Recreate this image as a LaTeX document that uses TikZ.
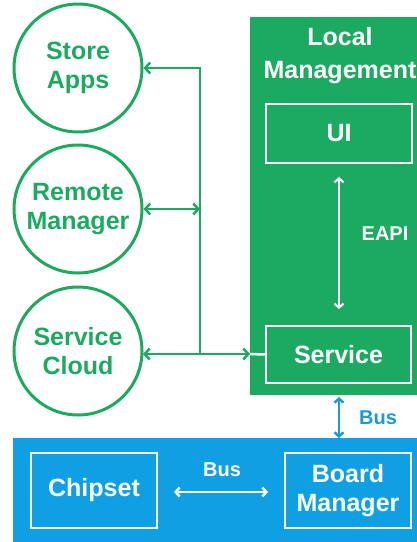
\documentclass[tikz,border=0pt]{standalone}
\usepackage{fontspec}
\setmainfont{Liberation Sans}
\usetikzlibrary{arrows.meta}
\definecolor{grn}{RGB}{27,170,96}
\definecolor{blu}{RGB}{14,160,226}
\definecolor{blu2}{RGB}{26,154,214}
\tikzset{
  big/.style={font=\fontsize{25}{29}\selectfont\bfseries, align=center, inner sep=0pt},
  small/.style={font=\fontsize{20}{24}\selectfont\bfseries, inner sep=0pt},
  circ/.style={circle, draw=grn, line width=3pt, minimum size=128pt, text=grn, big},
  wbox/.style={draw=white, line width=2.5pt, text=white, big},
  harrow/.style={line width=2.5pt, {Straight Barb[length=5pt,width=11pt]}-{Straight Barb[length=5pt,width=11pt]}},
}
\begin{document}
\begin{tikzpicture}[x=1pt,y=-1pt]
\useasboundingbox (0,0) rectangle (417,542);
% panels
\node[fill=grn, anchor=north west, minimum width=167pt, minimum height=378pt, inner sep=0pt] (lm) at (250,17) {};
\node[fill=blu, anchor=north west, minimum width=404pt, minimum height=104pt, inner sep=0pt] (hw) at (13,438) {};
% titles
\node[big, text=white, anchor=base, font=\fontsize{25}{33}\selectfont\bfseries] (title) at (340,78) {Local\\Management};
% circles
\node[circ] (store) at (78,68) {Store\\Apps};
\node[circ] (remote) at (78,209) {Remote\\Manager};
\node[circ] (cloud) at (78,351) {Service\\Cloud};
% boxes
\node[wbox, minimum width=146pt, minimum height=59pt] (ui) at (339,133.5) {UI};
\node[wbox, minimum width=145pt, minimum height=57pt] (service) at (338.5,354.5) {Service};
\node[wbox, minimum width=126pt, minimum height=75pt] (chip) at (94,490.5) {Chipset};
\node[wbox, minimum width=126pt, minimum height=75pt] (board) at (348,490.5) {Board\\Manager};
% labels
\node[small, text=white] (eapi) at (385,234) {EAPI};
\node[small, text=blu2] (bus1) at (378,418) {Bus};
\node[small, text=white] (bus2) at (222,470) {Bus};
% coordinates
\coordinate (j1) at (200,68);
\coordinate (j2) at (200,209);
\coordinate (j3) at (200,354);
\coordinate (c3) at (143,354);
\coordinate (lmw) at (250,354);
\coordinate (u1) at (339,177);
\coordinate (s1) at (339,309);
\coordinate (b1) at (339,397);
\coordinate (b2) at (339,438);
\coordinate (k1) at (174,492);
\coordinate (k2) at (268,492);
% green connectors
\draw[grn, line width=2.5pt, -{Straight Barb[length=5pt,width=11pt]}] (j3) -- (j1) -- (store.east);
\draw[grn, harrow] (remote.east) -- (j2);
\draw[grn, harrow] (c3) -- (lmw);
\draw[white, line width=2.5pt] (lmw) -- (service.west);
% white EAPI arrow
\draw[white, line width=2pt, {Straight Barb[length=4pt,width=9pt]}-{Straight Barb[length=4pt,width=9pt]}] (u1) -- (s1);
% bus arrows
\draw[blu2, line width=2.5pt, {Straight Barb[length=4pt,width=9pt]}-{Straight Barb[length=4pt,width=9pt]}] (b1) -- (b2);
\draw[white, line width=2.5pt, {Straight Barb[length=4pt,width=9pt]}-{Straight Barb[length=4pt,width=9pt]}] (k1) -- (k2);
\end{tikzpicture}
\end{document}
